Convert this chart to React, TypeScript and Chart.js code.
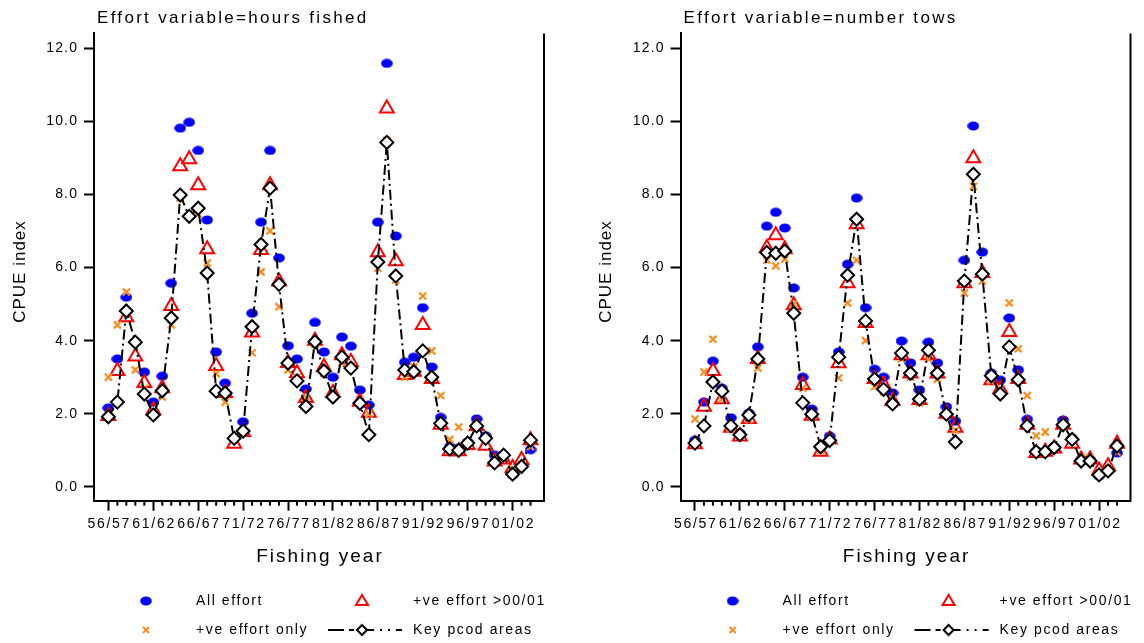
import React, { useEffect, useRef } from 'react';
import { Chart, registerables } from 'chart.js';

Chart.register(...registerables);

const FONT = '"Liberation Sans", Arial, Helvetica, sans-serif';

// ---- categories / ticks ----
const fishingYears = [
  '56/57', '57/58', '58/59', '59/60', '60/61', '61/62', '62/63', '63/64', '64/65', '65/66',
  '66/67', '67/68', '68/69', '69/70', '70/71', '71/72', '72/73', '73/74', '74/75', '75/76',
  '76/77', '77/78', '78/79', '79/80', '80/81', '81/82', '82/83', '83/84', '84/85', '85/86',
  '86/87', '87/88', '88/89', '89/90', '90/91', '91/92', '92/93', '93/94', '94/95', '95/96',
  '96/97', '97/98', '98/99', '99/00', '00/01', '01/02', '02/03', '03/04',
];
const xTickLabels = ['56/57', '61/62', '66/67', '71/72', '76/77', '81/82', '86/87', '91/92', '96/97', '01/02'];
const yTicks = [0, 2, 4, 6, 8, 10, 12];

const seriesNames = ['All effort', '+ve effort >00/01', '+ve effort only', 'Key pcod areas'];

// ---- Effort variable = hours fished ----
const hoursAllEffort = [
  2.16, 3.5, 5.19, 3.97, 3.14, 2.32, 3.03, 5.57, 9.81, 9.97,
  9.2, 7.3, 3.69, 2.84, 1.34, 1.78, 4.75, 7.24, 9.2, 6.26,
  3.86, 3.5, 2.68, 4.5, 3.69, 3.0, 4.1, 3.85, 2.65, 2.24,
  7.24, 11.58, 6.86, 3.41, 3.55, 4.9, 3.28, 1.9, 1.1, 1.07,
  1.23, 1.86, 1.4, 0.87, 0.87, 0.33, 0.57, 1.02,
];
const hoursRecent = [
  1.94, 3.17, 4.64, 3.57, 2.84, 2.1, 2.7, 4.95, 8.77, 8.96,
  8.25, 6.5, 3.31, 2.57, 1.18, 1.5, 4.22, 6.48, 8.25, 5.62,
  3.39, 3.11, 2.43, 4.0, 3.28, 2.57, 3.6, 3.42, 2.33, 2.03,
  6.42, 10.35, 6.17, 3.06, 3.15, 4.43, 2.95, 1.7, 0.98, 0.98,
  1.15, 1.67, 1.13, 0.7, 0.75, 0.52, 0.74, 1.28,
];
const hoursPositive = [
  3.0, 4.43, 5.33, 3.2, 2.7, 2.05, 2.46, 4.43, 7.9, 7.49,
  7.46, 6.12, 3.1, 2.32, 1.35, 1.53, 3.67, 5.88, 7.0, 4.93,
  3.2, 3.0, 2.45, 3.9, 3.1, 2.6, 3.4, 3.3, 2.4, 2.0,
  5.98, 9.48, 5.65, 3.0, 3.28, 5.22, 3.72, 2.5, 1.3, 1.64,
  1.2, 1.7, 1.3, 0.8, 0.8, 0.5, 0.6, 1.1,
];
const hoursKeyAreas = [
  1.92, 2.32, 4.81, 3.96, 2.54, 1.97, 2.63, 4.62, 7.98, 7.4,
  7.62, 5.85, 2.62, 2.57, 1.33, 1.53, 4.38, 6.63, 8.17, 5.54,
  3.39, 2.9, 2.2, 3.97, 3.17, 2.46, 3.55, 3.25, 2.29, 1.43,
  6.15, 9.42, 5.77, 3.2, 3.15, 3.72, 3.0, 1.74, 1.04, 1.0,
  1.2, 1.67, 1.33, 0.66, 0.87, 0.35, 0.56, 1.28,
];

// ---- Effort variable = number tows ----
const towsAllEffort = [
  1.28, 2.32, 3.44, 2.7, 1.89, 1.47, 2.02, 3.83, 7.13, 7.51,
  7.08, 5.44, 3.0, 2.13, 1.1, 1.39, 3.69, 6.09, 7.9, 4.9,
  3.22, 3.0, 2.57, 3.99, 3.39, 2.65, 3.96, 3.39, 2.19, 1.8,
  6.2, 9.87, 6.42, 3.11, 2.92, 4.62, 3.2, 1.85, 0.99, 0.97,
  1.1, 1.83, 1.33, 0.75, 0.75, 0.3, 0.45, 0.93,
];
const towsRecent = [
  1.17, 2.19, 3.17, 2.4, 1.62, 1.38, 1.86, 3.5, 6.53, 6.88,
  6.5, 4.97, 2.79, 1.95, 0.96, 1.3, 3.38, 5.57, 7.18, 4.48,
  2.95, 2.8, 2.35, 3.6, 3.1, 2.38, 3.6, 3.1, 2.0, 1.62,
  5.57, 8.99, 5.85, 2.92, 2.68, 4.24, 2.95, 1.7, 0.93, 0.96,
  1.05, 1.7, 1.18, 0.75, 0.75, 0.45, 0.57, 1.18,
];
const towsPositive = [
  1.86, 3.14, 4.04, 2.4, 1.6, 1.4, 1.84, 3.25, 6.2, 6.04,
  6.23, 5.0, 2.7, 1.95, 1.0, 1.3, 2.98, 5.03, 6.2, 4.0,
  2.74, 2.6, 2.4, 3.5, 3.0, 2.3, 3.5, 2.95, 1.95, 1.55,
  5.3, 8.22, 5.63, 2.9, 2.7, 5.03, 3.78, 2.5, 1.4, 1.5,
  1.1, 1.73, 1.35, 0.8, 0.8, 0.4, 0.5, 0.95,
];
const towsKeyAreas = [
  1.2, 1.67, 2.87, 2.62, 1.67, 1.43, 1.97, 3.5, 6.41, 6.39,
  6.45, 4.75, 2.3, 1.99, 1.1, 1.27, 3.55, 5.79, 7.32, 4.54,
  2.95, 2.67, 2.27, 3.66, 3.11, 2.4, 3.74, 3.11, 1.99, 1.23,
  5.63, 8.55, 5.82, 3.04, 2.54, 3.83, 2.93, 1.67, 0.96, 0.96,
  1.08, 1.7, 1.3, 0.71, 0.71, 0.33, 0.44, 1.12,
];

const COLORS = { all: '#0000ff', recent: '#ff0000', positive: '#ff8c1a', key: '#000000' };

type PanelSpec = {
  title: string;
  all: number[];
  recent: number[];
  positive: number[];
  key: number[];
  areaLeft: number;
  areaRight: number;
};

const W = 572;
const H = 643;
const AREA_TOP = 33.4;
const AREA_BOTTOM = 500.7;

const panels: PanelSpec[] = [
  { title: 'Effort variable=hours fished', all: hoursAllEffort, recent: hoursRecent, positive: hoursPositive, key: hoursKeyAreas, areaLeft: 94, areaRight: 544 },
  { title: 'Effort variable=number tows', all: towsAllEffort, recent: towsRecent, positive: towsPositive, key: towsKeyAreas, areaLeft: 108.6, areaRight: 558.5 },
];

function makeEllipse(): HTMLCanvasElement {
  const c = document.createElement('canvas');
  c.width = 12;
  c.height = 10;
  const g = c.getContext('2d')!;
  g.fillStyle = COLORS.all;
  g.beginPath();
  g.ellipse(6, 5, 5.8, 4.5, 0, 0, Math.PI * 2);
  g.fill();
  return c;
}

function spacedText(ctx: CanvasRenderingContext2D, text: string, x: number, y: number, spacing: number, align: CanvasTextAlign) {
  (ctx as any).letterSpacing = spacing + 'px';
  const w = ctx.measureText(text).width - spacing;
  let sx = x;
  if (align === 'center') sx = x - w / 2;
  else if (align === 'right') sx = x - w;
  ctx.textAlign = 'left';
  ctx.fillText(text, sx, y);
  (ctx as any).letterSpacing = '0px';
}

function buildConfig(p: PanelSpec): any {
  const pts = (arr: number[]) => arr.map((v, i) => ({ x: i, y: v }));
  const ellipse = makeEllipse();
  const majorIdx = xTickLabels.map((l) => fishingYears.indexOf(l));

  const decor = {
    id: 'decor',
    afterDraw(chart: any) {
      const ctx: CanvasRenderingContext2D = chart.ctx;
      const a = chart.chartArea;
      const xs = chart.scales.x;
      const ys = chart.scales.y;
      ctx.save();
      ctx.strokeStyle = '#000';
      ctx.fillStyle = '#000';
      // right border
      ctx.lineWidth = 2;
      ctx.beginPath();
      ctx.moveTo(a.right, a.top);
      ctx.lineTo(a.right, a.bottom + 1);
      ctx.stroke();
      // minor ticks
      fishingYears.forEach((_, i) => {
        if (majorIdx.includes(i)) return;
        const px = xs.getPixelForValue(i);
        ctx.beginPath();
        ctx.moveTo(px, a.bottom);
        ctx.lineTo(px, a.bottom + 5);
        ctx.stroke();
      });
      // x tick labels
      ctx.font = `14px ${FONT}`;
      ctx.textBaseline = 'middle';
      xTickLabels.forEach((lab, k) => {
        spacedText(ctx, lab, xs.getPixelForValue(majorIdx[k]), 524, 1.7, 'center');
      });
      // y tick labels
      yTicks.forEach((v) => {
        spacedText(ctx, v.toFixed(1), a.left - 17, ys.getPixelForValue(v), 1.2, 'right');
      });
      // title
      ctx.font = `17px ${FONT}`;
      spacedText(ctx, p.title, a.left + 3, 18, 2.3, 'left');
      // x title
      ctx.font = `19px ${FONT}`;
      spacedText(ctx, 'Fishing year', (a.left + a.right) / 2, 557, 2, 'center');
      // y title
      ctx.save();
      ctx.font = `17px ${FONT}`;
      ctx.translate(a.left - 74, 272);
      ctx.rotate(-Math.PI / 2);
      spacedText(ctx, 'CPUE index', 0, 0, 1.0, 'center');
      ctx.restore();

      // legend
      const mx1 = a.left + 52;
      const tx1 = a.left + 102;
      const mx2 = a.left + 268;
      const tx2 = a.left + 319;
      const r1 = 601;
      const r2 = 630;
      ctx.font = `14px ${FONT}`;
      spacedText(ctx, seriesNames[0], tx1, r1, 1.6, 'left');
      spacedText(ctx, seriesNames[1], tx2, r1, 1.6, 'left');
      spacedText(ctx, seriesNames[2], tx1, r2, 1.6, 'left');
      spacedText(ctx, seriesNames[3], tx2, r2, 1.6, 'left');
      // blue ellipse
      ctx.drawImage(ellipse, mx1 - 6, r1 - 5);
      // red triangle
      ctx.strokeStyle = COLORS.recent;
      ctx.lineWidth = 2;
      ctx.beginPath();
      ctx.moveTo(mx2, r1 - 6);
      ctx.lineTo(mx2 + 6, r1 + 4);
      ctx.lineTo(mx2 - 6, r1 + 4);
      ctx.closePath();
      ctx.stroke();
      // orange cross
      ctx.strokeStyle = COLORS.positive;
      ctx.beginPath();
      ctx.moveTo(mx1 - 3, r2 - 3);
      ctx.lineTo(mx1 + 3, r2 + 3);
      ctx.moveTo(mx1 + 3, r2 - 3);
      ctx.lineTo(mx1 - 3, r2 + 3);
      ctx.stroke();
      // key line
      ctx.strokeStyle = '#000';
      ctx.setLineDash([16, 5, 5, 4, 16, 6, 2, 6, 2, 6]);
      ctx.beginPath();
      ctx.moveTo(mx2 - 34, r2);
      ctx.lineTo(mx2 + 40, r2);
      ctx.stroke();
      ctx.setLineDash([]);
      ctx.fillStyle = '#fff';
      ctx.beginPath();
      ctx.moveTo(mx2, r2 - 5);
      ctx.lineTo(mx2 + 5, r2);
      ctx.lineTo(mx2, r2 + 5);
      ctx.lineTo(mx2 - 5, r2);
      ctx.closePath();
      ctx.fill();
      ctx.stroke();
      ctx.restore();
    },
  };

  return {
    type: 'line',
    data: {
      datasets: [
        {
          label: seriesNames[3],
          data: pts(p.key),
          order: 0,
          showLine: true,
          borderColor: COLORS.key,
          borderWidth: 2,
          borderDash: [10, 4, 2, 4],
          tension: 0,
          pointStyle: 'rectRot',
          pointRadius: 6.5,
          pointBorderWidth: 2,
          pointBorderColor: COLORS.key,
          pointBackgroundColor: '#ffffff',
        },
        {
          label: seriesNames[2],
          data: pts(p.positive),
          order: 1,
          showLine: false,
          pointStyle: 'crossRot',
          pointRadius: 5,
          pointBorderWidth: 2.2,
          pointBorderColor: COLORS.positive,
          borderColor: COLORS.positive,
        },
        {
          label: seriesNames[1],
          data: pts(p.recent),
          order: 2,
          showLine: false,
          pointStyle: 'triangle',
          pointRadius: 8,
          pointBorderWidth: 2,
          pointBorderColor: COLORS.recent,
          pointBackgroundColor: 'rgba(0,0,0,0)',
          borderColor: COLORS.recent,
        },
        {
          label: seriesNames[0],
          data: pts(p.all),
          order: 3,
          showLine: false,
          pointStyle: ellipse,
          pointRadius: 5,
          borderColor: COLORS.all,
        },
      ],
    },
    options: {
      responsive: false,
      animation: false,
      events: [],
      layout: {
        autoPadding: false,
        padding: { top: AREA_TOP, left: 0, right: W - p.areaRight, bottom: H - AREA_BOTTOM - 12 },
      },
      plugins: { legend: { display: false }, title: { display: false }, tooltip: { enabled: false } },
      scales: {
        x: {
          type: 'linear',
          min: -1.6,
          max: 48.5,
          afterBuildTicks: (s: any) => {
            s.ticks = majorIdx.map((v) => ({ value: v }));
          },
          afterFit: (s: any) => {
            s.height = 12;
          },
          ticks: { display: false },
          grid: { display: true, drawOnChartArea: false, drawTicks: true, tickLength: 10, tickWidth: 2, tickColor: '#000' },
          border: { display: true, color: '#000', width: 2 },
        },
        y: {
          type: 'linear',
          min: -0.375,
          max: 12.4,
          afterBuildTicks: (s: any) => {
            s.ticks = yTicks.map((v) => ({ value: v }));
          },
          afterFit: (s: any) => {
            s.width = p.areaLeft;
          },
          ticks: { display: false },
          grid: { display: true, drawOnChartArea: false, drawTicks: true, tickLength: 10, tickWidth: 2, tickColor: '#000' },
          border: { display: true, color: '#000', width: 2 },
        },
      },
    },
    plugins: [decor],
  };
}

function Panel({ spec }: { spec: PanelSpec }) {
  const ref = useRef<HTMLCanvasElement>(null);
  useEffect(() => {
    const chart = new Chart(ref.current!, buildConfig(spec));
    return () => chart.destroy();
  }, [spec]);
  return <canvas ref={ref} width={W} height={H} style={{ display: 'block', width: W, height: H }} />;
}

export default function App() {
  return (
    <div style={{ position: 'fixed', left: 0, top: 0, width: 1144, height: 643, display: 'flex', background: '#fff' }}>
      <Panel spec={panels[0]} />
      <Panel spec={panels[1]} />
    </div>
  );
}
